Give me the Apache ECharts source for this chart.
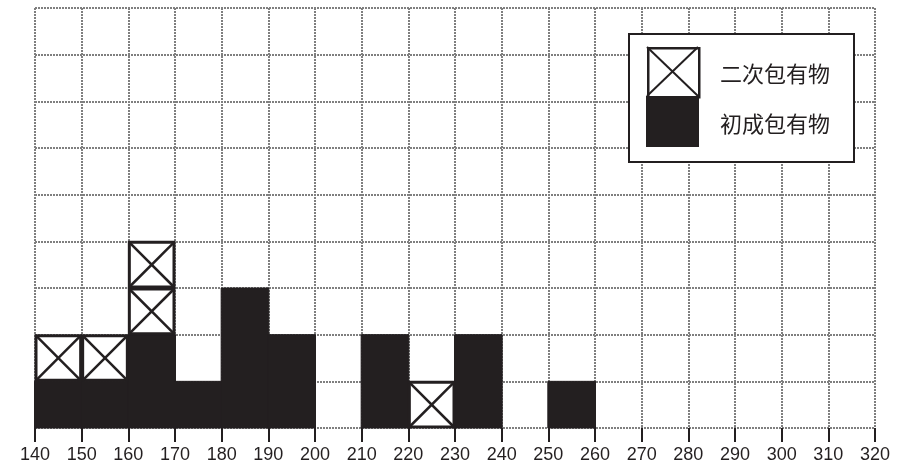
<!DOCTYPE html>
<html><head><meta charset="utf-8">
<script src="https://cdn.jsdelivr.net/npm/echarts@6/dist/echarts.min.js"></script>
<style>html,body{margin:0;padding:0;background:#fff}#c{width:906px;height:465px}</style>
</head><body><div id="c"></div>
<script>
// bin starts (width 10)
const binStarts = [140,150,160,170,180,190,200,210,220,230,240,250,260,270,280,290,300,310];
const binWidth = 10;
const primaryCounts   = [1,1,2,1,3,2,0,2,0,2,0,1,0,0,0,0,0,0]; // 初成包有物
const secondaryCounts = [1,1,2,0,0,0,0,0,1,0,0,0,0,0,0,0,0,0]; // 二次包有物
const legendNames = ['二次包有物','初成包有物'];
const xMin = 140, xMax = 320, yMax = 9;

const primaryData = binStarts.map((s,i)=>[s, s+binWidth, 0, primaryCounts[i]]).filter(d=>d[3]>0);
const secondaryData = [];
binStarts.forEach((s,i)=>{
  for(let k=0;k<secondaryCounts[i];k++){
    secondaryData.push([s, s+binWidth, primaryCounts[i]+k, primaryCounts[i]+k+1]);
  }
});

const chart = echarts.init(document.getElementById('c'), null, {renderer:'canvas'});
const ink = '#231f20';
const gridLine = {show:true, lineStyle:{color:'#7f7f7f', width:2, type:[2,1]}};
chart.setOption({
  animation:false,
  grid:{left:35, right:31, top:8, bottom:37},
  xAxis:{type:'value', min:xMin, max:xMax, interval:10,
    axisLine:{show:false},
    axisTick:{show:true, length:14, lineStyle:{color:ink, width:2}},
    axisLabel:{color:ink, fontSize:18, fontFamily:'"Liberation Sans Narrow", "Liberation Sans", sans-serif', margin:18},
    splitLine:gridLine},
  yAxis:{type:'value', min:0, max:yMax, interval:1,
    axisLine:{show:false}, axisTick:{show:false}, axisLabel:{show:false},
    splitLine:gridLine},
  series:[
    {name:legendNames[1], type:'custom', data:primaryData, z:3,
     renderItem:function(params, api){
       const p0 = api.coord([api.value(0), api.value(3)]);
       const p1 = api.coord([api.value(1), api.value(2)]);
       return {type:'rect', shape:{x:p0[0]-0.5, y:p0[1], width:p1[0]-p0[0]+1, height:p1[1]-p0[1]},
               style:{fill:ink, stroke:ink, lineWidth:1}};
     }},
    {name:legendNames[0], type:'custom', data:secondaryData, z:4,
     renderItem:function(params, api){
       const p0 = api.coord([api.value(0), api.value(3)]);
       const p1 = api.coord([api.value(1), api.value(2)]);
       const x=p0[0]+1, y=p0[1]+1, w=p1[0]-p0[0]-2, h=p1[1]-p0[1]-2;
       return {type:'group', children:[
         {type:'rect', shape:{x:x, y:y, width:w, height:h}, style:{fill:'#fff', stroke:ink, lineWidth:3}},
         {type:'line', shape:{x1:x, y1:y, x2:x+w, y2:y+h}, style:{stroke:ink, lineWidth:2.5}},
         {type:'line', shape:{x1:x+w, y1:y, x2:x, y2:y+h}, style:{stroke:ink, lineWidth:2.5}}
       ]};
     }}
  ],
  graphic:[
    {type:'rect', left:628, top:33, z:10, shape:{width:225, height:128}, style:{fill:'#fff', stroke:ink, lineWidth:2}},
    {type:'rect', left:647, top:47, z:11, shape:{width:51, height:49}, style:{fill:'#fff', stroke:ink, lineWidth:2.5}},
    {type:'line', z:11, shape:{x1:647, y1:47, x2:698, y2:96}, style:{stroke:ink, lineWidth:2}},
    {type:'line', z:11, shape:{x1:698, y1:47, x2:647, y2:96}, style:{stroke:ink, lineWidth:2}},
    {type:'rect', left:646, top:96, z:11, shape:{width:53, height:51}, style:{fill:ink}},
    {type:'text', left:720, top:63, z:11, style:{text:legendNames[0], fill:ink, font:'22px "Noto Sans CJK SC", sans-serif'}},
    {type:'text', left:720, top:113, z:11, style:{text:legendNames[1], fill:ink, font:'22px "Noto Sans CJK SC", sans-serif'}}
  ]
});
</script></body></html>
